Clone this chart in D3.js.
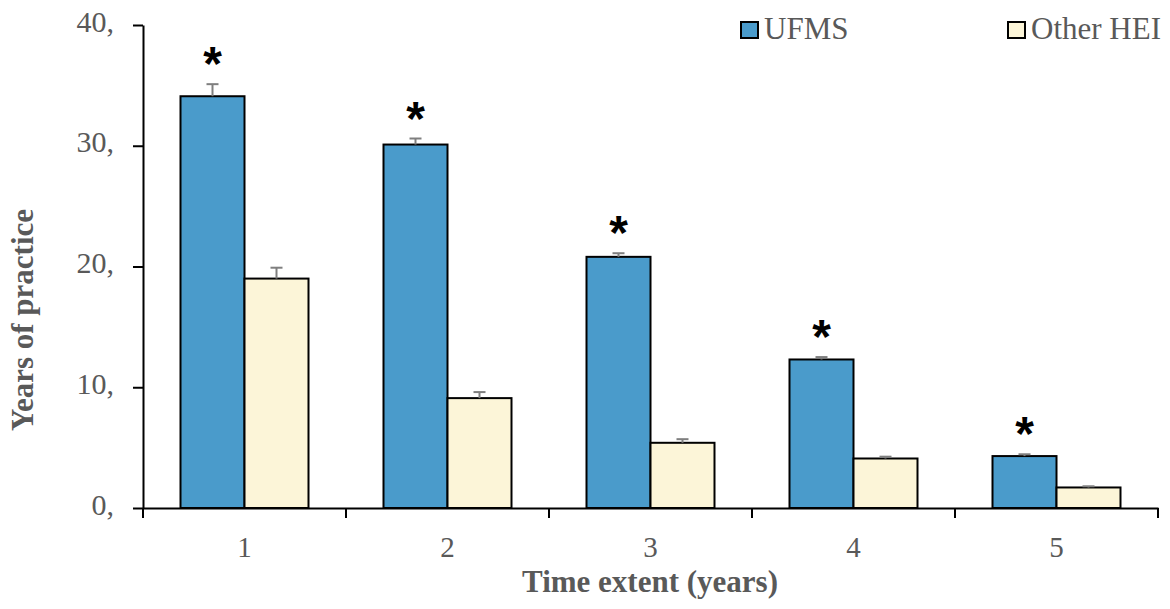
<!DOCTYPE html>
<html>
<head>
<meta charset="utf-8">
<script src="https://cdn.jsdelivr.net/npm/d3@7"></script>
<style>
  body { margin: 0; background: #fff; }
</style>
</head>
<body>
<script>
// chart data
const categories = ['1', '2', '3', '4', '5'];
const seriesNames = ['UFMS', 'Other HEI'];
const ufms = [34.1, 30.1, 20.8, 12.3, 4.3];
const ufmsErr = [1.0, 0.5, 0.3, 0.2, 0.15];
const other = [19.0, 9.1, 5.4, 4.1, 1.7];
const otherErr = [0.9, 0.5, 0.3, 0.15, 0.1];
const significant = [true, true, true, true, true];
const yTicks = [0, 10, 20, 30, 40];

const colours = ['#4a9bcb', '#fcf5d8'];

const width = 1170, height = 609;
const margin = {left: 143, right: 12, top: 25, bottom: 101};

const svg = d3.select('body').append('svg')
  .attr('width', width)
  .attr('height', height);

const x = d3.scaleBand()
  .domain(categories)
  .range([margin.left, width - margin.right])
  .paddingInner(0)
  .paddingOuter(0);

const xInner = d3.scaleBand()
  .domain(seriesNames)
  .range([0, x.bandwidth()])
  .paddingOuter(0.586)
  .paddingInner(0);

const y = d3.scaleLinear()
  .domain([0, 40])
  .range([height - margin.bottom, margin.top]);

const rows = categories.map((c, i) => ({
  cat: c,
  vals: [
    {name: seriesNames[0], v: ufms[i], e: ufmsErr[i], k: 0},
    {name: seriesNames[1], v: other[i], e: otherErr[i], k: 1}
  ],
  sig: significant[i]
}));

// bars
const groups = svg.selectAll('g.grp')
  .data(rows)
  .join('g')
  .attr('class', 'grp')
  .attr('transform', d => `translate(${x(d.cat)},0)`);

groups.selectAll('rect')
  .data(d => d.vals)
  .join('rect')
  .attr('x', d => xInner(d.name))
  .attr('y', d => y(d.v))
  .attr('width', xInner.bandwidth())
  .attr('height', d => y(0) - y(d.v))
  .attr('fill', d => colours[d.k])
  .attr('stroke', '#000')
  .attr('stroke-width', 2);

// error bars (upper only)
groups.selectAll('g.err')
  .data(d => d.vals)
  .join('g')
  .attr('class', 'err')
  .each(function(d) {
    const cx = xInner(d.name) + xInner.bandwidth() / 2;
    const g = d3.select(this);
    g.append('line')
      .attr('x1', cx).attr('x2', cx)
      .attr('y1', y(d.v)).attr('y2', y(d.v + d.e))
      .attr('stroke', '#7f7f7f').attr('stroke-width', 2);
    g.append('line')
      .attr('x1', cx - 6).attr('x2', cx + 6)
      .attr('y1', y(d.v + d.e)).attr('y2', y(d.v + d.e))
      .attr('stroke', '#7f7f7f').attr('stroke-width', 2);
  });

// asterisks
groups.filter(d => d.sig)
  .append('text')
  .attr('x', d => xInner(seriesNames[0]) + xInner.bandwidth() / 2)
  .attr('y', d => y(d.vals[0].v + d.vals[0].e) - 4)
  .attr('text-anchor', 'middle')
  .attr('font-family', 'Liberation Sans, Arial, sans-serif')
  .attr('font-weight', 'bold')
  .attr('font-size', 48)
  .attr('fill', '#000')
  .text('*');

// y axis
const yAxis = svg.append('g')
  .attr('transform', `translate(${margin.left},0)`)
  .call(d3.axisLeft(y).tickValues(yTicks).tickSize(10).tickSizeOuter(0)
    .tickFormat(d => d + ','));
yAxis.select('.domain').attr('stroke', '#000').attr('stroke-width', 2);
yAxis.selectAll('.tick line').attr('stroke', '#000').attr('stroke-width', 2);
yAxis.selectAll('.tick text')
  .attr('x', -29)
  .attr('dy', '0.2em')
  .attr('font-family', 'Liberation Serif, Times New Roman, serif')
  .attr('font-size', 30)
  .attr('fill', '#595959');

// x axis
const xAxis = svg.append('g')
  .attr('transform', `translate(0,${y(0)})`)
  .call(d3.axisBottom(x).tickSize(0).tickSizeOuter(0));
xAxis.select('.domain').attr('stroke', '#000').attr('stroke-width', 2);
xAxis.selectAll('.tick text')
  .attr('y', 49)
  .attr('dy', 0)
  .attr('font-family', 'Liberation Serif, Times New Roman, serif')
  .attr('font-size', 29)
  .attr('fill', '#595959');

// category boundary ticks
const bounds = categories.map(c => x(c)).concat([x(categories[categories.length - 1]) + x.bandwidth()]);
svg.append('g').selectAll('line')
  .data(bounds)
  .join('line')
  .attr('x1', d => d).attr('x2', d => d)
  .attr('y1', y(0)).attr('y2', y(0) + 10)
  .attr('stroke', '#000').attr('stroke-width', 2);

// axis titles
svg.append('text')
  .attr('transform', 'translate(33,320) rotate(-90)')
  .attr('text-anchor', 'middle')
  .attr('font-family', 'Liberation Serif, Times New Roman, serif')
  .attr('font-weight', 'bold')
  .attr('font-size', 31)
  .attr('fill', '#595959')
  .text('Years of practice');

svg.append('text')
  .attr('x', 650)
  .attr('y', 592)
  .attr('text-anchor', 'middle')
  .attr('font-family', 'Liberation Serif, Times New Roman, serif')
  .attr('font-weight', 'bold')
  .attr('font-size', 31)
  .attr('fill', '#595959')
  .text('Time extent (years)');

// legend
const legendX = [741, 1008];
const legend = svg.append('g').selectAll('g')
  .data(seriesNames)
  .join('g')
  .attr('transform', (d, i) => `translate(${legendX[i]},22)`);
legend.append('rect')
  .attr('width', 17).attr('height', 16)
  .attr('fill', (d, i) => colours[i])
  .attr('stroke', '#000').attr('stroke-width', 2);
legend.append('text')
  .attr('x', 23).attr('y', 17)
  .attr('font-family', 'Liberation Serif, Times New Roman, serif')
  .attr('font-size', 31)
  .attr('fill', '#595959')
  .text(d => d);
</script>
</body>
</html>
